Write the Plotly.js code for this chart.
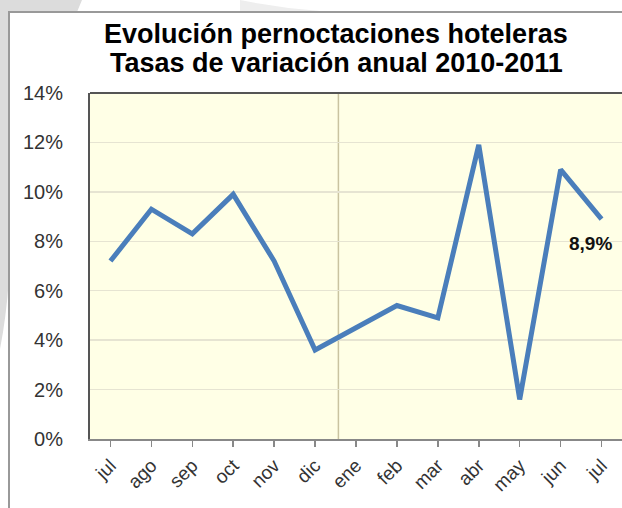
<!DOCTYPE html>
<html>
<head>
<meta charset="utf-8">
<script src="https://cdn.plot.ly/plotly-3.0.1.min.js"></script>
<style>html,body{margin:0;padding:0;background:#fff;}#chart{width:622px;height:508px;}</style>
</head>
<body>
<div id="chart"></div>
<script>
const months = ["jul","ago","sep","oct","nov","dic","ene","feb","mar","abr","may","jun","jul"];
const rates = [7.2, 9.3, 8.3, 9.9, 7.2, 3.6, 4.5, 5.4, 4.9, 11.9, 1.6, 10.9, 8.9];
const yTicks = [0, 2, 4, 6, 8, 10, 12, 14];
const titleLine1 = "Evolución pernoctaciones hoteleras";
const titleLine2 = "Tasas de variación anual 2010-2011";
const lastLabel = "8,9%";
const yearBreak = 5.57;

const xIdx = months.map((m, i) => i);
const lastI = rates.length - 1;

const trace = {
  type: "scatter",
  mode: "lines",
  x: xIdx,
  y: rates,
  line: {color: "#4a7ebb", width: 5},
  hoverinfo: "skip"
};

const layout = {
  width: 622, height: 508,
  margin: {l: 90, r: 0, t: 93, b: 69},
  paper_bgcolor: "#ffffff",
  plot_bgcolor: "#ffffe6",
  showlegend: false,
  font: {family: "Arial, 'Liberation Sans', sans-serif", color: "#222"},
  title: {
    text: "<b>" + titleLine1 + "</b>",
    font: {size: 27, color: "#000"},
    x: 0.54, xanchor: "center",
    xref: "container", yref: "container",
    y: 1 - 34/508, yanchor: "middle"
  },
  annotations: [
    {text: "<b>" + titleLine2 + "</b>", xref: "paper", yref: "paper",
     x: (336.5 - 90)/532, y: (439 - 63)/346, xanchor: "center", yanchor: "middle",
     showarrow: false, font: {size: 27, color: "#000"}},
    {text: "<b>" + lastLabel + "</b>", x: lastI, y: rates[lastI],
     showarrow: false, xshift: -11, yshift: -24,
     font: {size: 19, color: "#111"}}
  ],
  xaxis: {
    range: [-0.5, 12.5],
    tickmode: "array", tickvals: xIdx, ticktext: months,
    tickangle: -45,
    ticks: "outside", ticklen: 6, tickcolor: "#888", tickwidth: 1.5,
    showline: true, linecolor: "#888", linewidth: 2,
    showgrid: false, zeroline: false,
    tickfont: {size: 19, color: "#333"},
    fixedrange: true
  },
  yaxis: {
    range: [0, 14],
    tickmode: "array", tickvals: yTicks, ticktext: yTicks.map(v => v + "%"),
    ticks: "outside", ticklen: 21, tickcolor: "rgba(0,0,0,0)",
    showline: true, linecolor: "#555", linewidth: 2,
    showgrid: true, gridcolor: "#e6e4d2", gridwidth: 1.5,
    zeroline: false,
    tickfont: {size: 20, color: "#333"},
    fixedrange: true
  },
  shapes: [
    // background watermark pieces
    {type: "path", xref: "paper", yref: "paper", layer: "below",
     path: "M " + (-90/532) + " " + (439/346) + " L " + (-8/532) + " " + (439/346) +
           " L " + (-13/532) + " " + (427/346) + " L " + (-81/532) + " " + (427/346) +
           " L " + (-81/532) + " " + (160/346) + " Q " + (-84/532) + " " + (120/346) + " " + (-90/532) + " " + (90/346) + " Z",
     fillcolor: "#dcdcdc", line: {width: 0}},
    {type: "path", xref: "paper", yref: "paper", layer: "below",
     path: "M " + (150/532) + " " + (439/346) + " Q " + (190/532) + " " + (431/346) + " " + (230/532) + " " + (428/346) +
           " L " + (150/532) + " " + (428/346) + " Z",
     fillcolor: "#eeeeee", line: {width: 0}},
    // chart frame
    {type: "rect", xref: "paper", yref: "paper", layer: "below",
     x0: -81/532, x1: 540/532, y0: -80/346, y1: 427/346,
     fillcolor: "rgba(0,0,0,0)", line: {color: "#999", width: 2}},
    // top border of plot area
    {type: "line", xref: "paper", yref: "paper", x0: 0, x1: 1, y0: 1, y1: 1,
     line: {color: "#555", width: 2}},
    // year divider
    {type: "line", xref: "x", yref: "paper", x0: yearBreak, x1: yearBreak, y0: 0, y1: 1,
     layer: "below", line: {color: "#c9c3a0", width: 1.5}}
  ]
};

Plotly.newPlot("chart", [trace], layout, {displayModeBar: false, staticPlot: true});
</script>
</body>
</html>
